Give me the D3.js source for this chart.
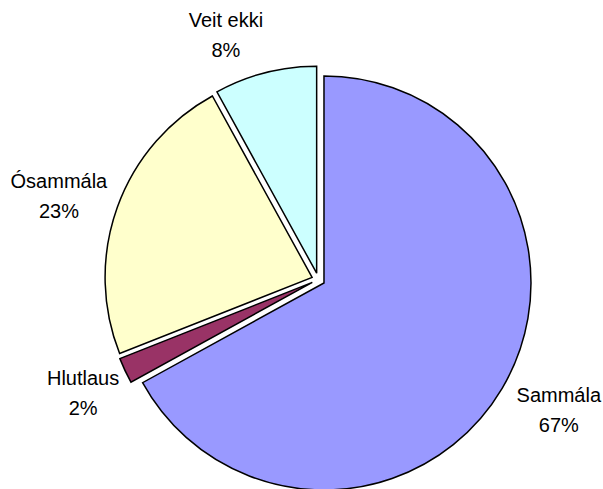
<!DOCTYPE html>
<html>
<head>
<meta charset="utf-8">
<script src="https://cdn.jsdelivr.net/npm/d3@7"></script>
<style>
  html, body { margin: 0; padding: 0; background: #ffffff; }
  svg { display: block; }
  text { font-family: Arial, "Liberation Sans", sans-serif; fill: #000; }
</style>
</head>
<body>
<svg id="chart" width="603" height="489"></svg>
<script>
// ---- data ----
const categories = ["Sammála", "Hlutlaus", "Ósammála", "Veit ekki"];
const values = [67, 2, 23, 8];
const percentLabels = ["67%", "2%", "23%", "8%"];
const sliceColors = ["#9999FF", "#993366", "#FFFFCC", "#CCFFFF"];

// ---- layout ----
const W = 603, H = 489;
const cx = 318.3, cy = 279.6, R = 207, explode = 6.6;
const labelGap = 8, lineGap = 30, fontSize = 20;
const labelNudge = { "Sammála": [13, 5], "Hlutlaus": [-2, 9], "Ósammála": [-5, 0], "Veit ekki": [-28, -7] };

const svg = d3.select("#chart");
const g = svg.append("g").attr("transform", `translate(${cx},${cy})`);

const pie = d3.pie().sort(null).value(d => d.value).startAngle(0).endAngle(2 * Math.PI);
const arcs = pie(categories.map((c, i) => ({ cat: c, value: values[i], label: percentLabels[i], color: sliceColors[i] })));
const arc = d3.arc().innerRadius(0).outerRadius(R);

arcs.forEach(a => {
  const mid = (a.startAngle + a.endAngle) / 2;
  a.dir = [Math.sin(mid), -Math.cos(mid)];
});

g.selectAll("path.slice")
  .data(arcs)
  .join("path")
  .attr("class", "slice")
  .attr("d", arc)
  .attr("transform", d => `translate(${d.dir[0] * explode},${d.dir[1] * explode})`)
  .attr("fill", d => d.data.color)
  .attr("stroke", "#000")
  .attr("stroke-width", 1.5)
  .attr("stroke-linejoin", "miter");

const lab = g.selectAll("g.lab")
  .data(arcs)
  .join("g")
  .attr("class", "lab");

lab.append("text")
  .attr("text-anchor", "middle")
  .attr("font-size", fontSize)
  .attr("y", -8)
  .text(d => d.data.cat);
lab.append("text")
  .attr("text-anchor", "middle")
  .attr("font-size", fontSize)
  .attr("y", -8 + lineGap)
  .text(d => d.data.label);

lab.attr("transform", function(d) {
  const bb = this.getBBox();
  const w = bb.width, h = 48;
  const t = R + explode + labelGap;
  const nud = labelNudge[d.data.cat] || [0, 0];
  const x = d.dir[0] * t + d.dir[0] * w / 2 + nud[0];
  const y = d.dir[1] * t + d.dir[1] * h / 2 + nud[1];
  return `translate(${x},${y})`;
});
</script>
</body>
</html>
